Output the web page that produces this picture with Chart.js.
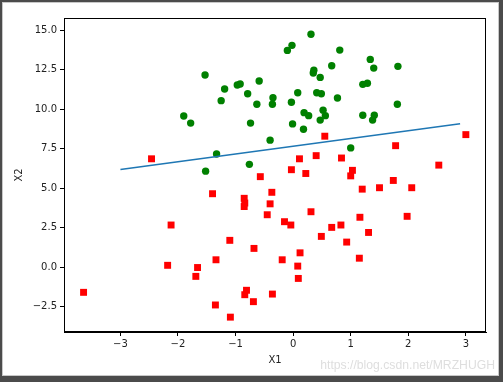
<!DOCTYPE html>
<html>
<head>
<meta charset="utf-8">
<script src="https://cdn.jsdelivr.net/npm/chart.js@4/dist/chart.umd.min.js"></script>
<style>
  html, body { margin: 0; padding: 0; }
  body { width: 503px; height: 382px; background: #4b4b4b; position: relative; overflow: hidden; }
  #frame { position: absolute; left: 2px; top: 2px; width: 497px; height: 374px; background: #fff; box-sizing: border-box; border: 1px solid #c8c8c8; }
  #c { position: absolute; left: 0; top: 0; }
  #wm { position: absolute; right: 8px; top: 358px; font-family: "Liberation Sans", Arial, sans-serif; font-size: 12.2px; color: #dedede; white-space: nowrap; }
</style>
</head>
<body>
<div id="frame"></div>
<canvas id="c" width="503" height="382"></canvas>
<div id="wm">https://blog.csdn.net/MRZHUGH</div>
<script>
// Class 1 (green circles)
const greenX = [0.31, -0.02, -0.10, 0.81, 1.34, 0.67, 1.40, 1.82, 0.36, 0.35, -1.53, 0.47, -0.59, -0.97, -0.92, -1.19, 1.21, 1.29, -0.79, 0.08, 0.41, 0.49, -0.35, 0.77, -1.25, -0.36, -0.63, -0.03, 1.81, 0.52, 0.19, 0.27, 0.56, 0.47, 1.21, 1.41, 1.38, -1.90, -1.78, -0.74, -0.01, 0.18, -0.40, -1.33, 1.00, -0.76, -1.52];
const greenY = [14.73, 14.03, 13.71, 13.73, 13.14, 12.74, 12.59, 12.70, 12.45, 12.28, 12.15, 12.00, 11.77, 11.52, 11.58, 11.27, 11.56, 11.63, 10.97, 11.03, 11.03, 10.97, 10.71, 10.70, 10.53, 10.30, 10.30, 10.43, 10.30, 9.93, 9.77, 9.58, 9.58, 9.30, 9.61, 9.61, 9.30, 9.56, 9.11, 9.11, 9.06, 8.72, 8.03, 7.15, 7.54, 6.50, 6.07];
// Class 0 (red squares)
const redX = [-3.64, -2.46, -2.12, -2.18, -1.69, -1.66, -1.40, -1.34, -1.35, -1.10, -1.09, -0.85, -0.84, -0.85, -0.68, -0.81, -0.84, -0.69, -0.57, -0.37, -0.40, -0.45, -0.36, -0.19, -0.15, -0.04, -0.03, 0.11, 0.22, 0.08, 0.09, 0.12, 0.31, 0.40, 0.49, 0.55, 0.67, 0.84, 0.83, 0.93, 1.00, 1.03, 1.16, 1.20, 1.31, 1.15, 1.50, 1.78, 1.74, 1.98, 2.06, 2.53, 3.00];
const redY = [-1.60, 6.85, 2.66, 0.11, -0.59, -0.03, 4.64, 0.46, -2.40, 1.69, -3.17, 4.35, 4.05, 3.83, 1.18, -1.47, -1.75, -2.19, 5.72, 4.73, 4.00, 3.31, -1.71, 0.46, 2.87, 2.66, 6.16, 6.85, 5.92, 0.06, -0.72, 0.90, 3.50, 7.05, 1.94, 8.28, 2.51, 6.90, 2.66, 1.58, 5.77, 6.12, 3.15, 4.93, 2.19, 0.56, 5.02, 7.68, 5.48, 3.21, 5.02, 6.45, 8.38];
// Decision boundary
const lineX = [-3.0, 2.9];
const lineY = [6.17, 9.07];
// Tick values
const xTicks = [-3, -2, -1, 0, 1, 2, 3];
const yTicks = [-2.5, 0, 2.5, 5, 7.5, 10, 12.5, 15];

const toPts = (xs, ys) => xs.map((x, i) => ({ x: x, y: ys[i] }));
const minus = s => s.replace('-', '\u2212');

const framePlugin = {
  id: 'frameBox',
  afterDatasetsDraw(chart) {
    const a = chart.chartArea, ctx = chart.ctx;
    ctx.save();
    ctx.strokeStyle = '#000';
    ctx.lineWidth = 1;
    ctx.strokeRect(Math.round(a.left) + 0.5, Math.round(a.top) + 0.5, Math.round(a.right - a.left) - 1, Math.round(a.bottom - a.top) - 1);
    ctx.restore();
  }
};

Chart.defaults.font.family = '"DejaVu Sans", sans-serif';
Chart.defaults.font.size = 10;
Chart.defaults.color = '#222';

new Chart(document.getElementById('c'), {
  type: 'scatter',
  data: {
    datasets: [
      {
        type: 'line',
        data: toPts(lineX, lineY),
        borderColor: '#1f77b4',
        borderWidth: 1.5,
        pointRadius: 0,
        fill: false,
        tension: 0
      },
      {
        data: toPts(redX, redY),
        pointStyle: 'rect',
        pointRadius: 4.9,
        backgroundColor: '#ff0000',
        borderColor: '#ff0000',
        borderWidth: 0
      },
      {
        data: toPts(greenX, greenY),
        pointStyle: 'circle',
        pointRadius: 3.7,
        backgroundColor: '#008000',
        borderColor: '#008000',
        borderWidth: 0
      }
    ]
  },
  options: {
    responsive: false,
    animation: false,
    events: [],
    layout: { padding: { top: 18, right: 17, left: 0, bottom: 0 } },
    plugins: { legend: { display: false }, tooltip: { enabled: false } },
    scales: {
      x: {
        type: 'linear',
        min: -3.98,
        max: 3.35,
        afterFit: s => { s.height = 50; },
        afterBuildTicks: s => { s.ticks = xTicks.map(v => ({ value: v })); },
        ticks: { callback: v => minus(String(v)), padding: 2, maxRotation: 0, color: '#222' },
        grid: { drawOnChartArea: false, drawTicks: true, tickLength: 4, color: '#000' },
        border: { display: true, color: '#000' },
        title: { display: true, text: 'X1', color: '#222', font: { size: 10 }, padding: { top: 0, bottom: 16 } }
      },
      y: {
        type: 'linear',
        min: -4.11,
        max: 15.76,
        afterFit: s => { s.width = 64; },
        afterBuildTicks: s => { s.ticks = yTicks.map(v => ({ value: v })); },
        ticks: { callback: v => minus(v.toFixed(1)), padding: 3, color: '#222' },
        grid: { drawOnChartArea: false, drawTicks: true, tickLength: 4, color: '#000' },
        border: { display: true, color: '#000' },
        title: { display: true, text: 'X2', color: '#222', font: { size: 10 }, padding: { top: 13, bottom: 0 } }
      }
    }
  },
  plugins: [framePlugin]
});
</script>
</body>
</html>
